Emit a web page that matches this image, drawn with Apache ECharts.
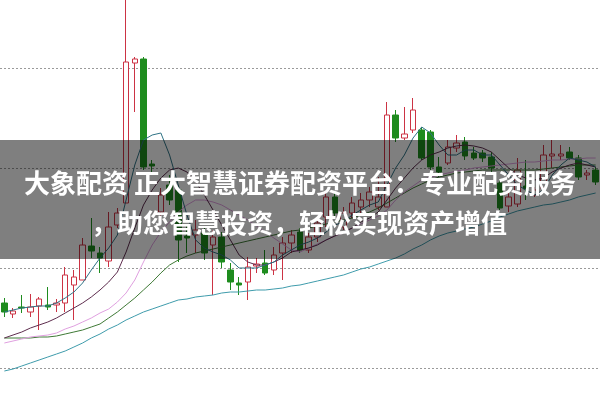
<!DOCTYPE html>
<html><head><meta charset="utf-8">
<script src="https://cdn.jsdelivr.net/npm/echarts@6/dist/echarts.min.js"></script>
<style>html,body{margin:0;padding:0;background:#fff}#c{width:600px;height:401px}</style>
</head><body><div id="c"></div>
<script>
const categories = ['1','2','3','4','5','6','7','8','9','10','11','12','13','14','15','16','17','18','19','20','21','22','23','24','25','26','27','28','29','30','31','32','33','34','35','36','37','38','39','40','41','42','43','44','45','46','47','48','49','50','51','52','53','54','55','56','57','58','59','60','61','62','63','64','65','66','67','68','69'];
const opens  = [165,154,161,156,162,163,163,165,183,188, 222,215,207,243,265,405,409,304,256,283, 278,232,233,235,223,231,198,185,186,202, 205,198,215,225,236,218,231,251,271,241, 255,261,268,261,261,353,330,338,338,336, 301,305,320,326,315,315,311,285,262,264, 282,273,280,312,312,316,310,293,298];
const closes = [156,157,160,161,169,161,165,193,191,223, 217,210,241,255,406,409,301,302,273,268, 228,230,238,215,231,206,186,183,201,204, 195,213,225,233,218,231,245,271,255,255, 265,268,276,271,353,330,334,358,310,301, 296,321,325,312,310,310,300,260,271,298, 279,278,313,314,314,310,291,295,286];
const lows   = [151,150,155,151,138,158,156,156,148,188, 210,195,201,240,265,356,298,295,248,263, 206,215,215,208,173,200,178,173,168,195, 193,193,188,215,215,215,226,241,251,238, 250,255,261,258,261,326,328,335,308,298, 291,303,316,308,308,306,296,258,256,261, 268,271,276,300,308,308,288,288,283];
const highs  = [170,160,173,174,171,181,169,201,198,230, 250,221,256,260,470,411,411,308,280,293, 283,243,248,241,238,236,205,191,211,210, 218,221,231,238,240,235,251,275,275,261, 271,275,281,291,366,358,361,370,341,338, 311,328,333,331,321,318,316,288,278,310, 308,281,323,328,323,321,313,298,301];
const ma5  = [156,158,160,161,162,162,165,170,176,185, 198,210,220,233,268,303,328,333,335,313, 283,253,228,220,216,213,208,200,200,200, 203,206,213,218,223,226,230,236,243,246, 253,258,263,266,283,300,313,330,341,335, 323,313,313,318,318,313,313,303,293,283, 278,273,278,293,303,310,308,306,301];
const ma10 = [130,133,136,140,143,146,150,155,160,165, 171,178,186,196,216,240,263,278,290,298, 300,296,286,273,258,243,228,213,206,203, 203,206,210,216,218,220,223,228,232,236, 240,246,250,256,268,280,290,300,308,313, 316,320,322,323,322,320,316,308,300,293, 290,288,290,296,300,303,305,303,301];
const ma20 = [125,127,129,131,132,133,135,139,142,146, 150,155,159,166,175,188,206,223,236,246, 256,263,268,268,266,263,258,253,248,242, 236,230,224,218,216,220,224,228,232,235, 240,244,248,252,258,268,276,282,288,291, 293,295,297,298,300,301,302,303,304,305, 306,306,307,308,308,309,309,310,310];
const ma30 = [130,130,130,130,131,131,132,134,136,138, 141,144,150,156,163,170,178,186,195,203, 208,212,215,217,219,221,223,225,227,229, 231,233,235,237,238,240,242,244,246,248, 250,253,256,260,265,270,275,280,284,288, 291,293,295,296,297,298,298,298,298,298, 298,298,299,300,301,302,303,303,303];
const ma60 = [97,99,102,105,108,111,114,117,121,125, 130,134,139,143,148,152,156,159,162,165, 168,169,171,172,173,175,176,176,177,178, 178,179,180,182,183,185,187,189,191,193, 196,199,201,204,207,210,214,219,223,228, 232,235,237,239,241,244,247,251,254,257, 259,261,263,264,266,268,271,273,275];
const yTicks = [100, 400, 100]; // min, max, interval
const bannerLines = ['大象配资 正大智慧证券配资平台：专业配资服务', '，助您智慧投资，轻松实现资产增值'];

const candleData = opens.map((o, i) => [o, closes[i], lows[i], highs[i]]);
const chart = echarts.init(document.getElementById('c'), null, {renderer: 'canvas'});
function ma(name, data, color) {
  return {name, type: 'line', data, symbol: 'none', clip: false, smooth: false,
    lineStyle: {color, width: 1}, z: 3, silent: true};
}
chart.setOption({
  animation: false,
  backgroundColor: '#ffffff',
  grid: {left: 0, right: -4, top: 68, bottom: 33},
  xAxis: {type: 'category', data: categories, boundaryGap: true,
    axisLine: {show: false}, axisTick: {show: false}, axisLabel: {show: false}, splitLine: {show: false}},
  yAxis: {type: 'value', min: yTicks[0], max: yTicks[1], interval: yTicks[2],
    axisLine: {show: false}, axisTick: {show: false}, axisLabel: {show: false},
    splitLine: {show: true, lineStyle: {color: '#9a9a9a', type: [2, 2], width: 1}}},
  series: [
    {type: 'candlestick', data: candleData, barWidth: 6, clip: false, z: 2,
      itemStyle: {color: '#ffffff', color0: '#1e8c1e', borderColor: '#cc3344', borderColor0: '#1e8c1e', borderWidth: 1}},
    ma('MA60', ma60, '#3f9cac'),
    ma('MA30', ma30, '#3f7a36'),
    ma('MA20', ma20, '#e0a0e0'),
    ma('MA10', ma10, '#5e2d4e'),
    ma('MA5', ma5, '#2f7385')
  ],
  graphic: [
    {type: 'rect', left: 0, top: 140, z: 100, shape: {width: 600, height: 119}, style: {fill: 'rgba(0,0,0,0.5)'}},
    {type: 'text', z: 101, x: 300, y: 183, style: {text: bannerLines[0], textAlign: 'center', textVerticalAlign: 'middle', verticalAlign: 'middle',
      font: 'bold 26px "Noto Sans CJK SC"', fill: '#ffffff'}},
    {type: 'text', z: 101, x: 299, y: 223, style: {text: bannerLines[1], textAlign: 'center', textVerticalAlign: 'middle', verticalAlign: 'middle',
      font: 'bold 26px "Noto Sans CJK SC"', fill: '#ffffff'}}
  ]
});
</script></body></html>
